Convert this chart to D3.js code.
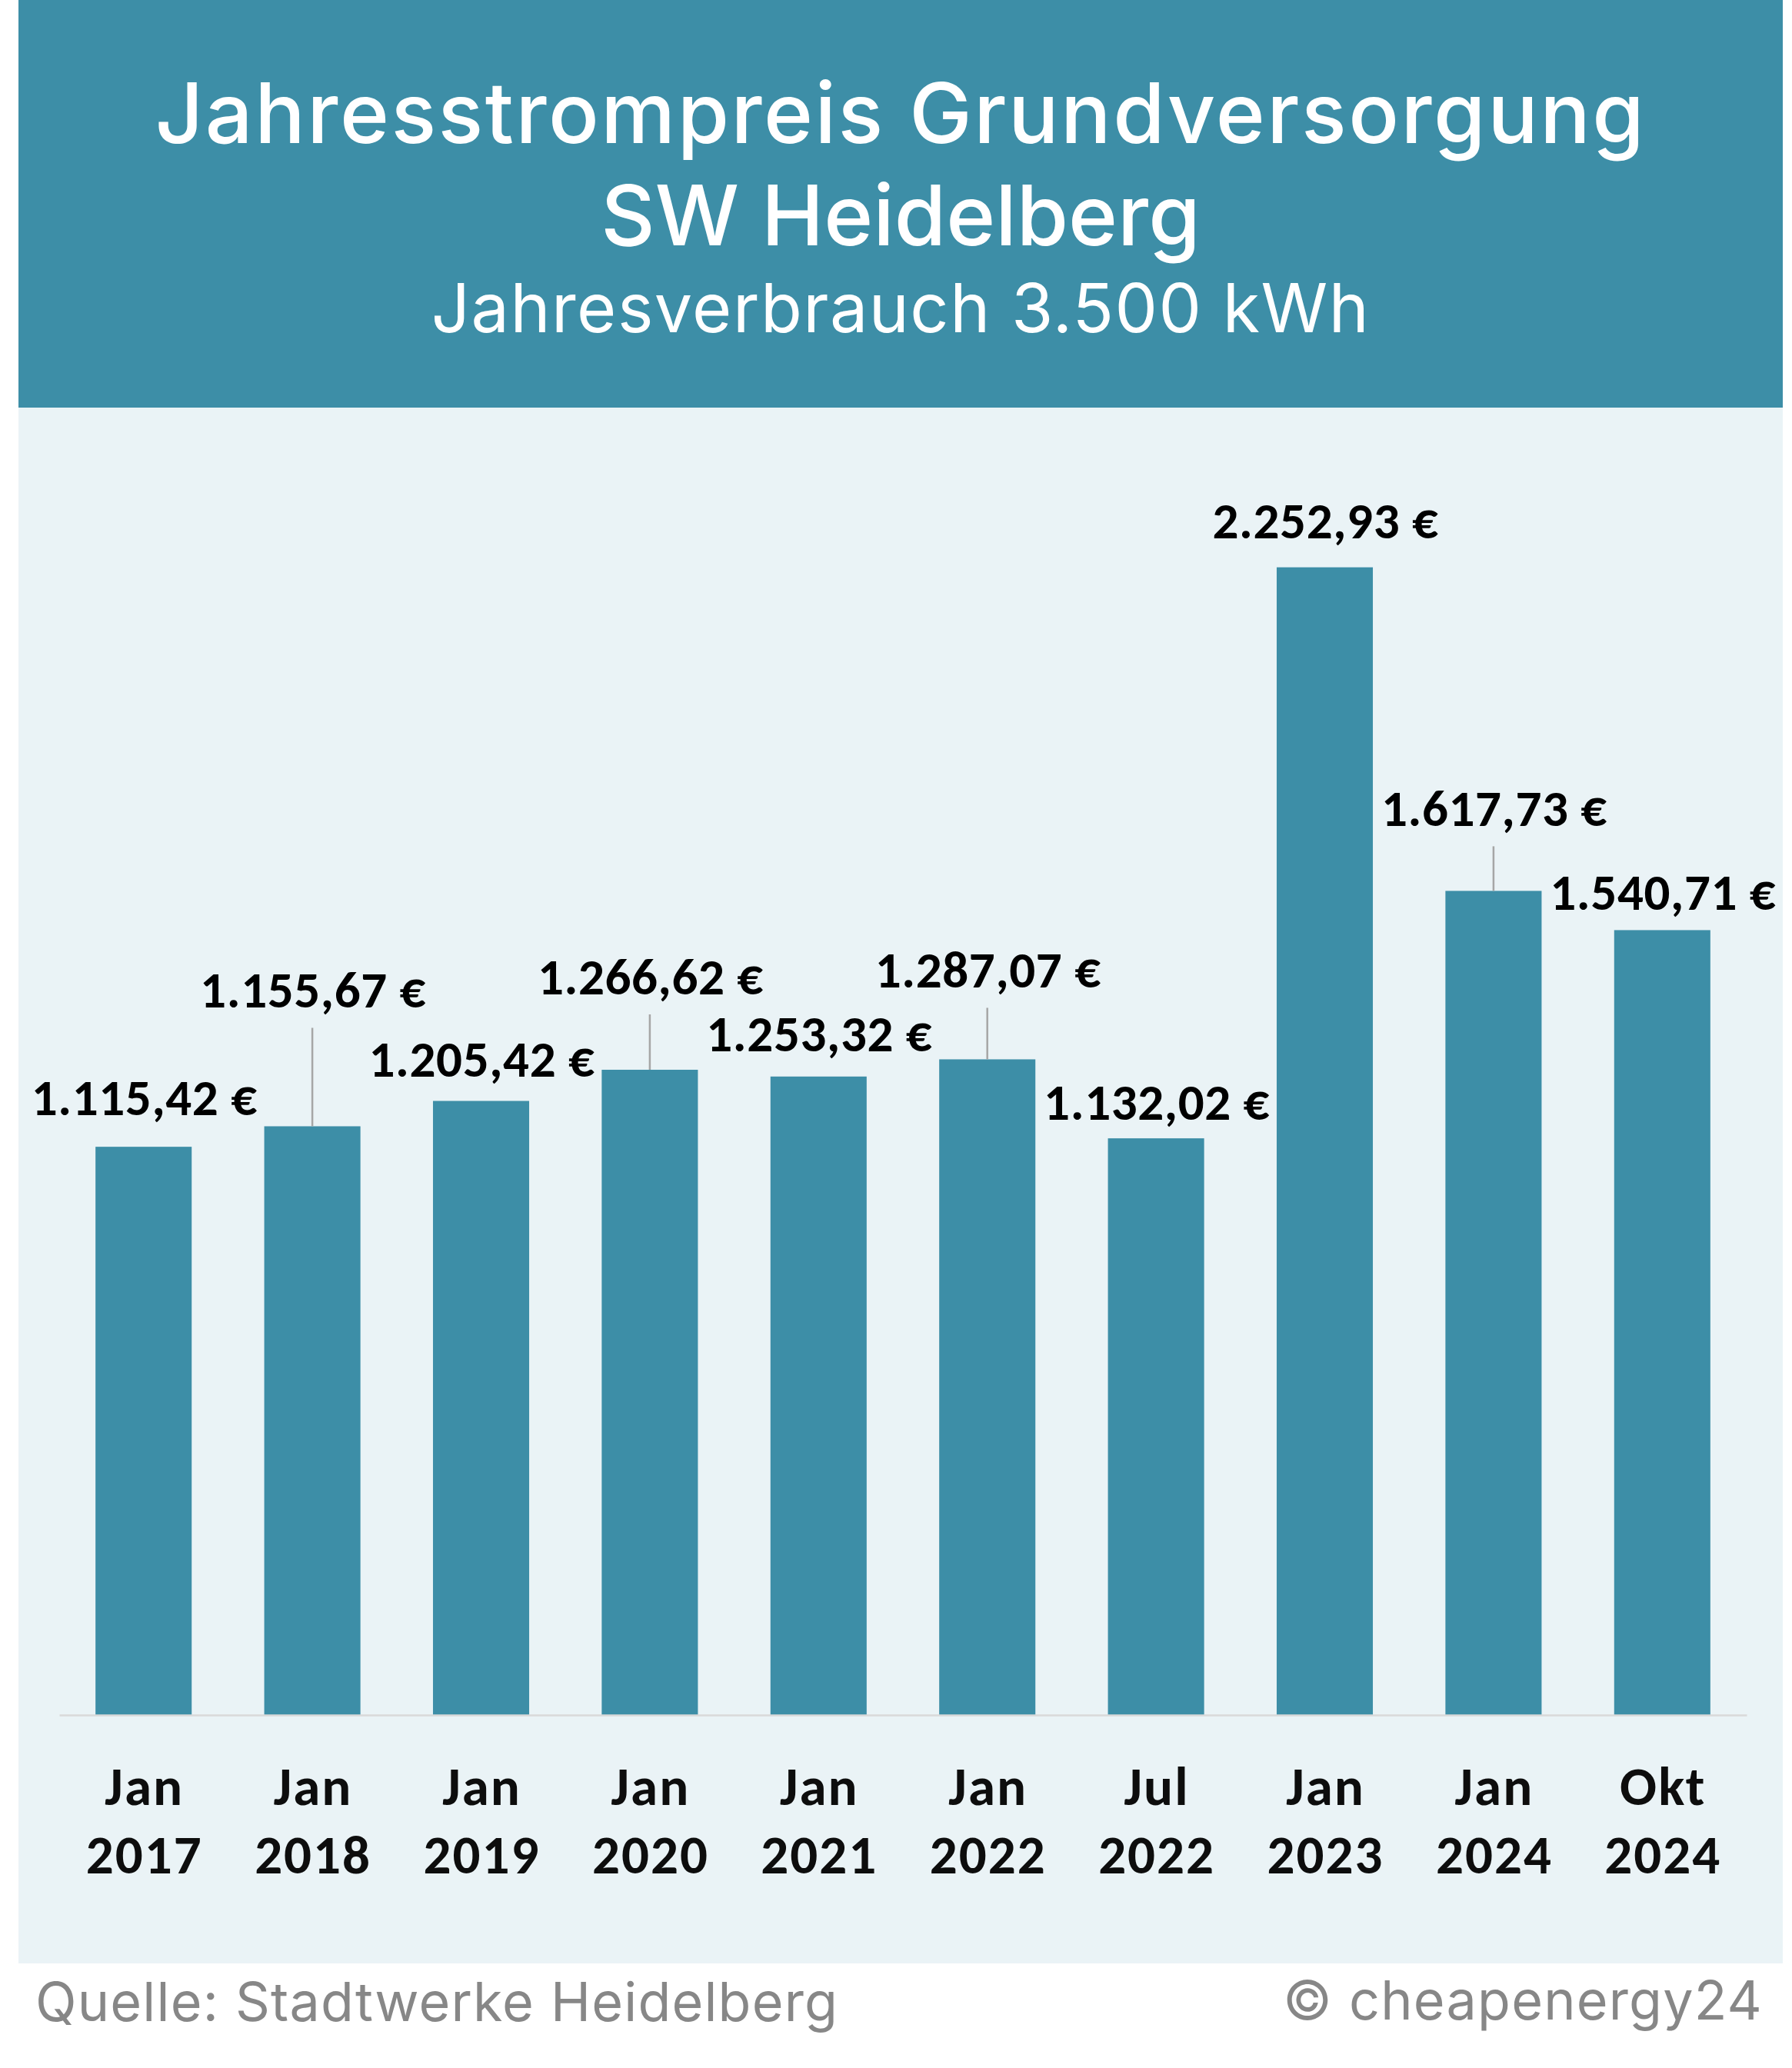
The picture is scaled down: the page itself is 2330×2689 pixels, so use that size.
<!DOCTYPE html>
<html>
<head>
<meta charset="utf-8">
<script src="https://cdn.jsdelivr.net/npm/d3@7/dist/d3.min.js"></script>
<style>
  html, body { margin: 0; padding: 0; background: #ffffff; }
  svg { display: block; }
</style>
</head>
<body>
<script>
// ---- data ----
const months = ["Jan", "Jan", "Jan", "Jan", "Jan", "Jan", "Jul", "Jan", "Jan", "Okt"];
const years = ["2017", "2018", "2019", "2020", "2021", "2022", "2022", "2023", "2024", "2024"];
const values = [1115.42, 1155.67, 1205.42, 1266.62, 1253.32, 1287.07, 1132.02, 2252.93, 1617.73, 1540.71];
const titleLines = ["Jahresstrompreis Grundversorgung", "SW Heidelberg"];
const subtitle = "Jahresverbrauch 3.500 kWh";
const source = "Quelle: Stadtwerke Heidelberg";
const credit = "\u00A9 cheapenergy24";

// ---- layout (label lift above bar top, px) ----
const labelLift = [41, 154, 32, 98, 33, 93, 24, 38, 84, 26];

const W = 2330, H = 2689;
const teal = "#3d8ea7";
const panel = "#eaf3f6";

const svg = d3.select("body").append("svg").attr("width", W).attr("height", H);
svg.append("rect").attr("width", W).attr("height", H).attr("fill", "#ffffff");
svg.append("rect").attr("x", 24).attr("y", 0).attr("width", 2294).attr("height", 530).attr("fill", teal);
svg.append("rect").attr("x", 24).attr("y", 530).attr("width", 2294).attr("height", 2023).attr("fill", panel);

const titleFont = "Inter, 'DejaVu Sans', sans-serif";
svg.append("text").attr("x", 1171).attr("y", 186).attr("text-anchor", "middle")
  .attr("font-family", titleFont).attr("font-weight", 500).attr("font-size", 109)
  .attr("letter-spacing", 2.5).attr("fill", "#fff").text(titleLines[0]);
svg.append("text").attr("x", 1171).attr("y", 319).attr("text-anchor", "middle")
  .attr("font-family", titleFont).attr("font-weight", 500).attr("font-size", 109)
  .attr("letter-spacing", 0).attr("fill", "#fff").text(titleLines[1]);
svg.append("text").attr("x", 1171).attr("y", 432).attr("text-anchor", "middle")
  .attr("font-family", titleFont).attr("font-weight", 400).attr("font-size", 88)
  .attr("letter-spacing", 1.5).attr("fill", "#fff").text(subtitle);

// ---- scales ----
const idx = d3.range(values.length);
const x = d3.scaleBand().domain(idx).range([77, 2271]).paddingInner(0.43).paddingOuter(0.215);
const y = d3.scaleLinear().domain([0, 2500]).range([2230, 574]);

const de = d3.formatLocale({ decimal: ",", thousands: ".", grouping: [3], currency: ["", " \u20AC"] });
const fmt = de.format("$,.2f");

const g = svg.append("g");

g.selectAll("rect.bar").data(idx).join("rect").attr("class", "bar")
  .attr("x", i => x(i)).attr("width", x.bandwidth())
  .attr("y", i => y(values[i])).attr("height", i => y(0) - y(values[i]))
  .attr("fill", teal);

// axis
const axis = d3.axisBottom(x).tickSize(0).tickSizeOuter(0).tickFormat("");
const ax = g.append("g").attr("transform", `translate(0,${y(0)})`).call(axis);
ax.select(".domain").attr("stroke", "#d9d9d9").attr("stroke-width", 2.7);
const labFont = "Carlito, Lato, 'Open Sans', sans-serif";
ax.selectAll(".tick text").each(function (i) {
  const t = d3.select(this).attr("y", 0).attr("dy", null)
    .attr("font-family", labFont).attr("font-weight", 700).attr("font-size", 71)
    .attr("letter-spacing", 2).attr("fill", "#0d0d0d").attr("text-anchor", "middle");
  t.text(null);
  t.append("tspan").attr("x", 1).attr("y", 117).text(months[i]);
  t.append("tspan").attr("x", 1).attr("y", 206).text(years[i]);
});

// leader lines
g.selectAll("line.leader").data(idx.filter(i => labelLift[i] > 60)).join("line").attr("class", "leader")
  .attr("x1", i => x(i) + x.bandwidth() / 2).attr("x2", i => x(i) + x.bandwidth() / 2)
  .attr("y1", i => y(values[i]) - labelLift[i] + 26).attr("y2", i => y(values[i]))
  .attr("stroke", "#a6a6a6").attr("stroke-width", 2.5);

// value labels
g.selectAll("text.val").data(idx).join("text").attr("class", "val")
  .attr("x", i => x(i) + x.bandwidth() / 2 + 1)
  .attr("y", i => y(values[i]) - labelLift[i])
  .attr("text-anchor", "middle")
  .attr("font-family", labFont).attr("font-weight", 700).attr("font-size", 67)
  .attr("letter-spacing", 0.6).attr("fill", "#000").text(i => fmt(values[i]));

// footer
svg.append("text").attr("x", 46).attr("y", 2628)
  .attr("font-family", titleFont).attr("font-weight", 400).attr("font-size", 70)
  .attr("letter-spacing", 1.2).attr("fill", "#878787").text(source);
svg.append("text").attr("x", 2292).attr("y", 2626).attr("text-anchor", "end")
  .attr("font-family", titleFont).attr("font-weight", 400).attr("font-size", 70)
  .attr("letter-spacing", 1.2).attr("fill", "#878787").text(credit);
</script>
</body>
</html>
